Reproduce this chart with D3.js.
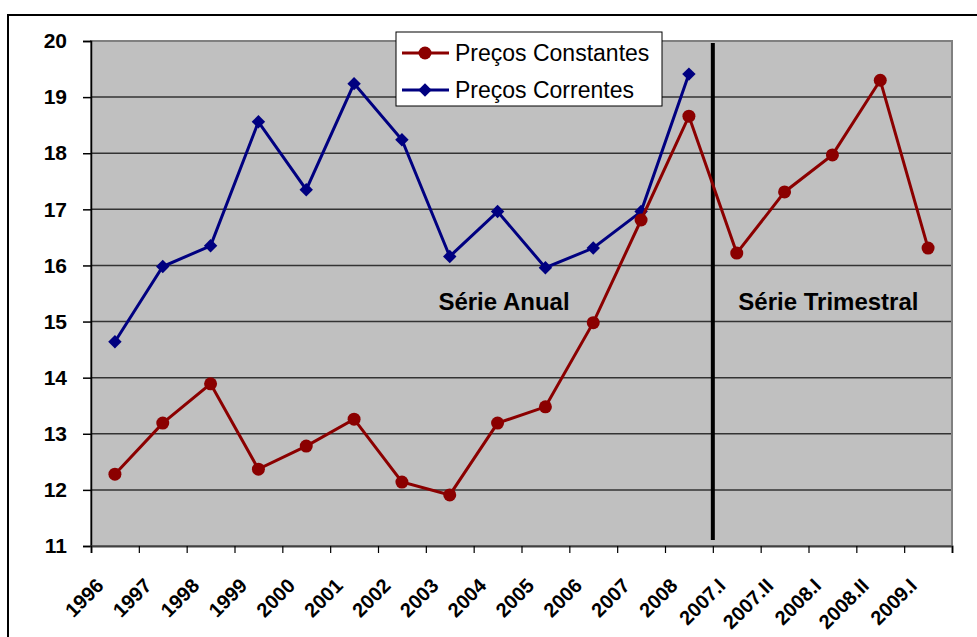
<!DOCTYPE html>
<html>
<head>
<meta charset="utf-8">
<script src="https://cdn.jsdelivr.net/npm/d3@7/dist/d3.min.js"></script>
<style>
  body { margin: 0; background: #fff; }
  text { font-family: "Liberation Sans", Arial, sans-serif; }
</style>
</head>
<body>
<script>
"use strict";

const categories = ["1996", "1997", "1998", "1999", "2000", "2001", "2002", "2003", "2004",
                    "2005", "2006", "2007", "2008", "2007.I", "2007.II", "2008.I", "2008.II", "2009.I"];
const constantes = [12.28, 13.19, 13.89, 12.37, 12.78, 13.26, 12.14, 11.91, 13.19,
                    13.48, 14.98, 16.81, 18.66, 16.22, 17.31, 17.97, 19.30, 16.31];
const correntes = [14.64, 15.98, 16.35, 18.56, 17.35, 19.24, 18.24, 16.16, 16.96,
                   15.96, 16.31, 16.96, 19.41];
const yTicks = [11, 12, 13, 14, 15, 16, 17, 18, 19, 20];
const seriesNames = ["Preços Constantes", "Preços Correntes"];
const annotations = ["Série Anual", "Série Trimestral"];

const WIDTH = 977, HEIGHT = 637;
const PL = 91, PR = 952, PT = 41, PB = 546;
const RED = "#8b0000", BLUE = "#000080";

let svg = d3.select("body").append("svg")
    .attr("width", WIDTH)
    .attr("height", HEIGHT);

// outer chart frame (runs off the right and bottom edges)
svg.append("rect")
    .attr("x", 8).attr("y", 15)
    .attr("width", 1100).attr("height", 800)
    .attr("fill", "#fff")
    .attr("stroke", "#000")
    .attr("stroke-width", 2);

let x = d3.scaleBand()
    .domain(categories)
    .range([PL, PR])
    .padding(0);
let xEdge = d3.scaleLinear()
    .domain([0, categories.length])
    .range([PL, PR]);
let y = d3.scaleLinear()
    .domain([11, 20])
    .range([PB, PT]);
let cx = (d) => x(d) + x.bandwidth() / 2;

// plot area
svg.append("rect")
    .attr("x", PL).attr("y", PT)
    .attr("width", PR - PL).attr("height", PB - PT)
    .attr("fill", "#c0c0c0");

// gridlines
svg.append("g")
    .selectAll("line")
    .data(yTicks.filter(t => t > 11 && t < 20))
    .join("line")
    .attr("x1", PL).attr("x2", PR)
    .attr("y1", d => y(d)).attr("y2", d => y(d))
    .attr("stroke", "#333")
    .attr("stroke-width", 1.5);

// plot border
svg.append("rect")
    .attr("x", PL).attr("y", PT)
    .attr("width", PR - PL).attr("height", PB - PT)
    .attr("fill", "none")
    .attr("stroke", "#808080")
    .attr("stroke-width", 2);

// y axis
let yAxis = svg.append("g")
    .attr("transform", "translate(" + PL + ",0)")
    .call(d3.axisLeft(y).tickValues(yTicks).tickSize(8).tickPadding(16).tickFormat(d3.format("d")));
yAxis.select(".domain").attr("stroke", "#000").attr("stroke-width", 1.5);
yAxis.selectAll(".tick line").attr("stroke", "#000").attr("stroke-width", 1.5);
yAxis.selectAll("text")
    .attr("font-family", "Liberation Sans, Arial, sans-serif")
    .attr("font-size", 21)
    .attr("font-weight", "bold")
    .attr("fill", "#000");

// x axis: ticks on category edges
let xTicks = svg.append("g")
    .attr("transform", "translate(0," + PB + ")")
    .call(d3.axisBottom(xEdge).tickValues(d3.range(categories.length + 1)).tickSize(7).tickFormat(""));
xTicks.select(".domain").attr("stroke", "#404040").attr("stroke-width", 2);
xTicks.selectAll(".tick line").attr("stroke", "#000").attr("stroke-width", 1.2);

// x labels, rotated
svg.append("g")
    .selectAll("text")
    .data(categories)
    .join("text")
    .attr("transform", d => "translate(" + (cx(d) - 10) + "," + (PB + 41) + ") rotate(-45)")
    .attr("text-anchor", "end")
    .attr("font-size", 20)
    .attr("font-weight", "bold")
    .attr("fill", "#000")
    .text(d => d);

// annotations
svg.append("g")
    .selectAll("text")
    .data(annotations)
    .join("text")
    .attr("x", (d, i) => i === 0 ? 504 : (xEdge(13) + xEdge(18)) / 2 - 4)
    .attr("y", y(15.2))
    .attr("text-anchor", "middle")
    .attr("font-size", 24)
    .attr("font-weight", "bold")
    .attr("fill", "#000")
    .text(d => d);

// separator between annual and quarterly series
svg.append("line")
    .attr("x1", xEdge(13)).attr("x2", xEdge(13))
    .attr("y1", PT + 2).attr("y2", PB - 6)
    .attr("stroke", "#000")
    .attr("stroke-width", 4);

let line = d3.line()
    .x((d, i) => cx(categories[i]))
    .y(d => y(d));

// Preços Correntes (blue, diamonds)
svg.append("path")
    .datum(correntes)
    .attr("d", line)
    .attr("fill", "none")
    .attr("stroke", BLUE)
    .attr("stroke-width", 3);

let diamond = d3.symbol().type(d3.symbolDiamond2).size(115);
svg.append("g")
    .selectAll("path")
    .data(correntes)
    .join("path")
    .attr("d", diamond)
    .attr("transform", (d, i) => "translate(" + cx(categories[i]) + "," + y(d) + ")")
    .attr("fill", BLUE);

// Preços Constantes (red, circles)
svg.append("path")
    .datum(constantes)
    .attr("d", line)
    .attr("fill", "none")
    .attr("stroke", RED)
    .attr("stroke-width", 3);

svg.append("g")
    .selectAll("circle")
    .data(constantes)
    .join("circle")
    .attr("cx", (d, i) => cx(categories[i]))
    .attr("cy", d => y(d))
    .attr("r", 6.5)
    .attr("fill", RED);

// legend
let legend = svg.append("g");
legend.append("rect")
    .attr("x", 396).attr("y", 32)
    .attr("width", 266).attr("height", 74)
    .attr("fill", "#fff")
    .attr("stroke", "#000")
    .attr("stroke-width", 1);

let rows = legend.selectAll("g.row")
    .data(seriesNames)
    .join("g")
    .attr("class", "row")
    .attr("transform", (d, i) => "translate(0," + (53 + i * 37) + ")");
rows.append("line")
    .attr("x1", 402).attr("x2", 449)
    .attr("stroke", (d, i) => i === 0 ? RED : BLUE)
    .attr("stroke-width", 3);
rows.append("path")
    .attr("d", (d, i) => i === 0 ? d3.symbol().type(d3.symbolCircle).size(133)() : diamond())
    .attr("transform", "translate(425,0)")
    .attr("fill", (d, i) => i === 0 ? RED : BLUE);
rows.append("text")
    .attr("x", 455)
    .attr("dy", "0.36em")
    .attr("font-size", 23)
    .attr("fill", "#000")
    .text(d => d);
</script>
</body>
</html>
